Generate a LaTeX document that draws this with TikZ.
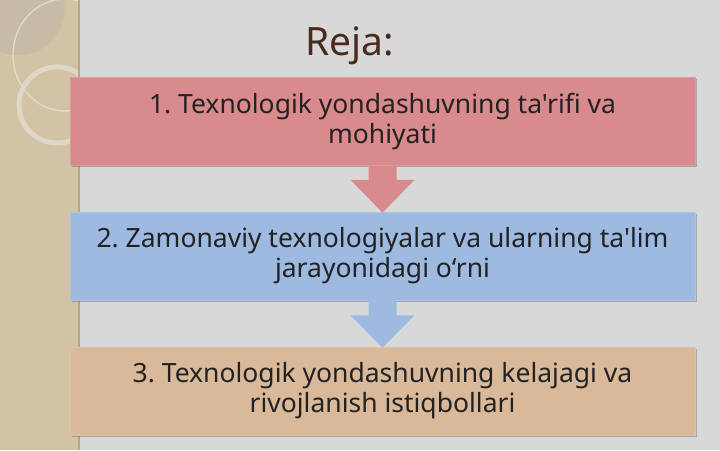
\documentclass[tikz,border=0pt]{standalone}
\usepackage{fontspec}
\newfontfamily\nf{Noto Sans}
\usetikzlibrary{shadows,calc}
\definecolor{bg}{HTML}{D8D8D8}
\definecolor{strip}{HTML}{D1C3A3}
\definecolor{stripline}{HTML}{B4A68C}
\definecolor{disk}{HTML}{C6BBA4}
\definecolor{ringc}{HTML}{E2DCD0}
\definecolor{titlec}{HTML}{4A2A1C}
\definecolor{txt}{HTML}{222222}
\definecolor{redb}{HTML}{D98A8D}
\definecolor{blueb}{HTML}{9EBAE0}
\definecolor{tanb}{HTML}{D9B999}
\tikzset{
  planbox/.style={rectangle, minimum width=625pt, minimum height=88pt, inner sep=0pt,
    draw=#1!85!white, line width=0.6pt, fill=#1, text=txt, align=center,
    font=\nf\fontsize{26.5}{30}\selectfont,
    drop shadow={shadow xshift=1.5pt, shadow yshift=-1.8pt, opacity=.35, fill=black!70}},
  downarrow/.style={fill=#1, draw=none}
}
\frenchspacing
\begin{document}
\begin{tikzpicture}[x=1pt,y=-1pt]
\useasboundingbox (0,0) rectangle (720,450);
\fill[bg] (0,0) rectangle (720,450);
\fill[strip] (0,0) rectangle (79,450);
\begin{scope}
  \clip (0,0) rectangle (79,450);
  \fill[disk] (18,8) circle (47pt);
  \draw[ringc, line width=1.3pt] (65,55) ellipse (52pt and 56pt);
  \draw[ringc, line width=5pt, opacity=.8] (57,105) circle (38pt);
\end{scope}
\draw[stripline, line width=1.5pt] (79,0) -- (79,450);

\node[anchor=base, text=titlec, font=\nf\fontsize{39}{47}\selectfont] (title) at (350,55) {Reja:};

\node[planbox=redb] (b1) at (382.5,121.5) {1. Texnologik yondashuvning ta'rifi va\\mohiyati};
\node[planbox=blueb] (b2) at (382.5,256) {2. Zamonaviy texnologiyalar va ularning ta'lim\\jarayonidagi o‘rni};
\node[planbox=tanb] (b3) at (382.5,391) {3. Texnologik yondashuvning kelajagi va\\rivojlanish istiqbollari};

\fill[downarrow=redb] ($(b1.south)+(-14,0)$) -- ($(b1.south)+(14,0)$) -- ($(b1.south)+(14,14)$)
  -- ($(b1.south)+(32,14)$) -- ($(b2.north)+(0,1)$) -- ($(b1.south)+(-32,14)$)
  -- ($(b1.south)+(-14,14)$) -- cycle;
\fill[downarrow=blueb] ($(b2.south)+(-14,0)$) -- ($(b2.south)+(14,0)$) -- ($(b2.south)+(14,15)$)
  -- ($(b2.south)+(32,15)$) -- ($(b3.north)+(0,1)$) -- ($(b2.south)+(-32,15)$)
  -- ($(b2.south)+(-14,15)$) -- cycle;
\end{tikzpicture}
\end{document}
